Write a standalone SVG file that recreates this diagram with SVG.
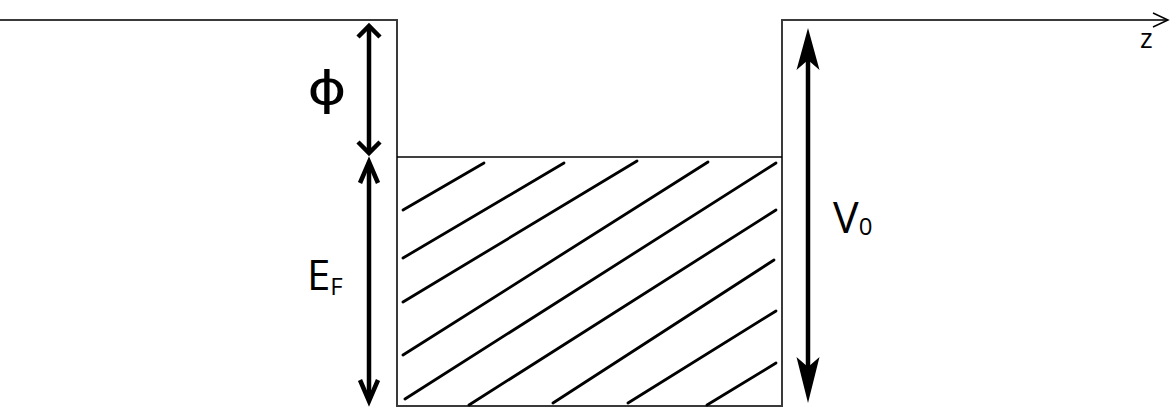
<svg xmlns="http://www.w3.org/2000/svg" width="1171" height="408" viewBox="0 0 1171 408">
<style>
.outline{fill:none;stroke:#3a3a3a;stroke-width:2}
.thin{fill:none;stroke:#000;stroke-width:1.5}
.hatch{fill:none;stroke:#000;stroke-width:2.8;stroke-linecap:round}
.dim{fill:none;stroke:#000;stroke-width:4.5}
.chev{fill:none;stroke:#000;stroke-width:4.5;stroke-linejoin:miter;stroke-linecap:butt}
.lbl{font-family:"Open Sans","Liberation Sans",sans-serif;fill:#000}
</style>
<rect width="1171" height="408" fill="#fff"/>
<g id="well">
<path class="outline" d="M0,20 H397 V406 H782 V20 H1167"/>
<polyline class="thin" points="1153,13 1168,20 1153,27"/>
<line class="thin" x1="397" y1="157" x2="782" y2="157"/>
</g>
<g id="hatching">
<line class="hatch" x1="403" y1="210" x2="484" y2="163"/>
<line class="hatch" x1="403" y1="258" x2="564" y2="163"/>
<line class="hatch" x1="403" y1="302" x2="637" y2="161"/>
<line class="hatch" x1="403" y1="355" x2="708" y2="162"/>
<line class="hatch" x1="405" y1="399" x2="776" y2="163"/>
<line class="hatch" x1="469" y1="405" x2="776" y2="210"/>
<line class="hatch" x1="553" y1="403" x2="774" y2="260"/>
<line class="hatch" x1="628" y1="403" x2="776" y2="311"/>
<line class="hatch" x1="707" y1="405" x2="776" y2="363"/>
</g>
<g id="connectors">
<g id="phi-arrow">
<line class="dim" x1="369" y1="28" x2="369" y2="152"/>
<polyline class="chev" points="358,37 369,26 380,37"/>
<polyline class="chev" points="358,142 369,153 380,142"/>
</g>
<g id="ef-arrow">
<line class="dim" x1="369" y1="163" x2="369" y2="400"/>
<polyline class="chev" points="360,183 369,162 378,183"/>
<polyline class="chev" points="360,380 369,401 378,380"/>
</g>
<g id="v0-arrow">
<line class="dim" x1="808" y1="45" x2="808" y2="390"/>
<path d="M808,28 L819.5,70 L808,60 L796.5,70 Z" fill="#000"/>
<path d="M808,403 L819.5,357 L808,367 L796.5,357 Z" fill="#000"/>
</g>
</g>
<g id="label-phi"><text class="lbl" x="0" y="0" font-size="46" text-anchor="middle" transform="translate(327,104) scale(1.3,1)" style="font-family:'DejaVu Sans',sans-serif">ϕ</text></g>
<g id="label-ef"><text class="lbl" x="307" y="290" font-size="42">E<tspan font-size="24" dy="5">F</tspan></text></g>
<g id="label-v0"><text class="lbl" x="833" y="233" font-size="43">V<tspan font-size="24" dy="2">0</tspan></text></g>
<g id="label-z"><text class="lbl" x="1140" y="48" font-size="27">z</text></g>
</svg>
